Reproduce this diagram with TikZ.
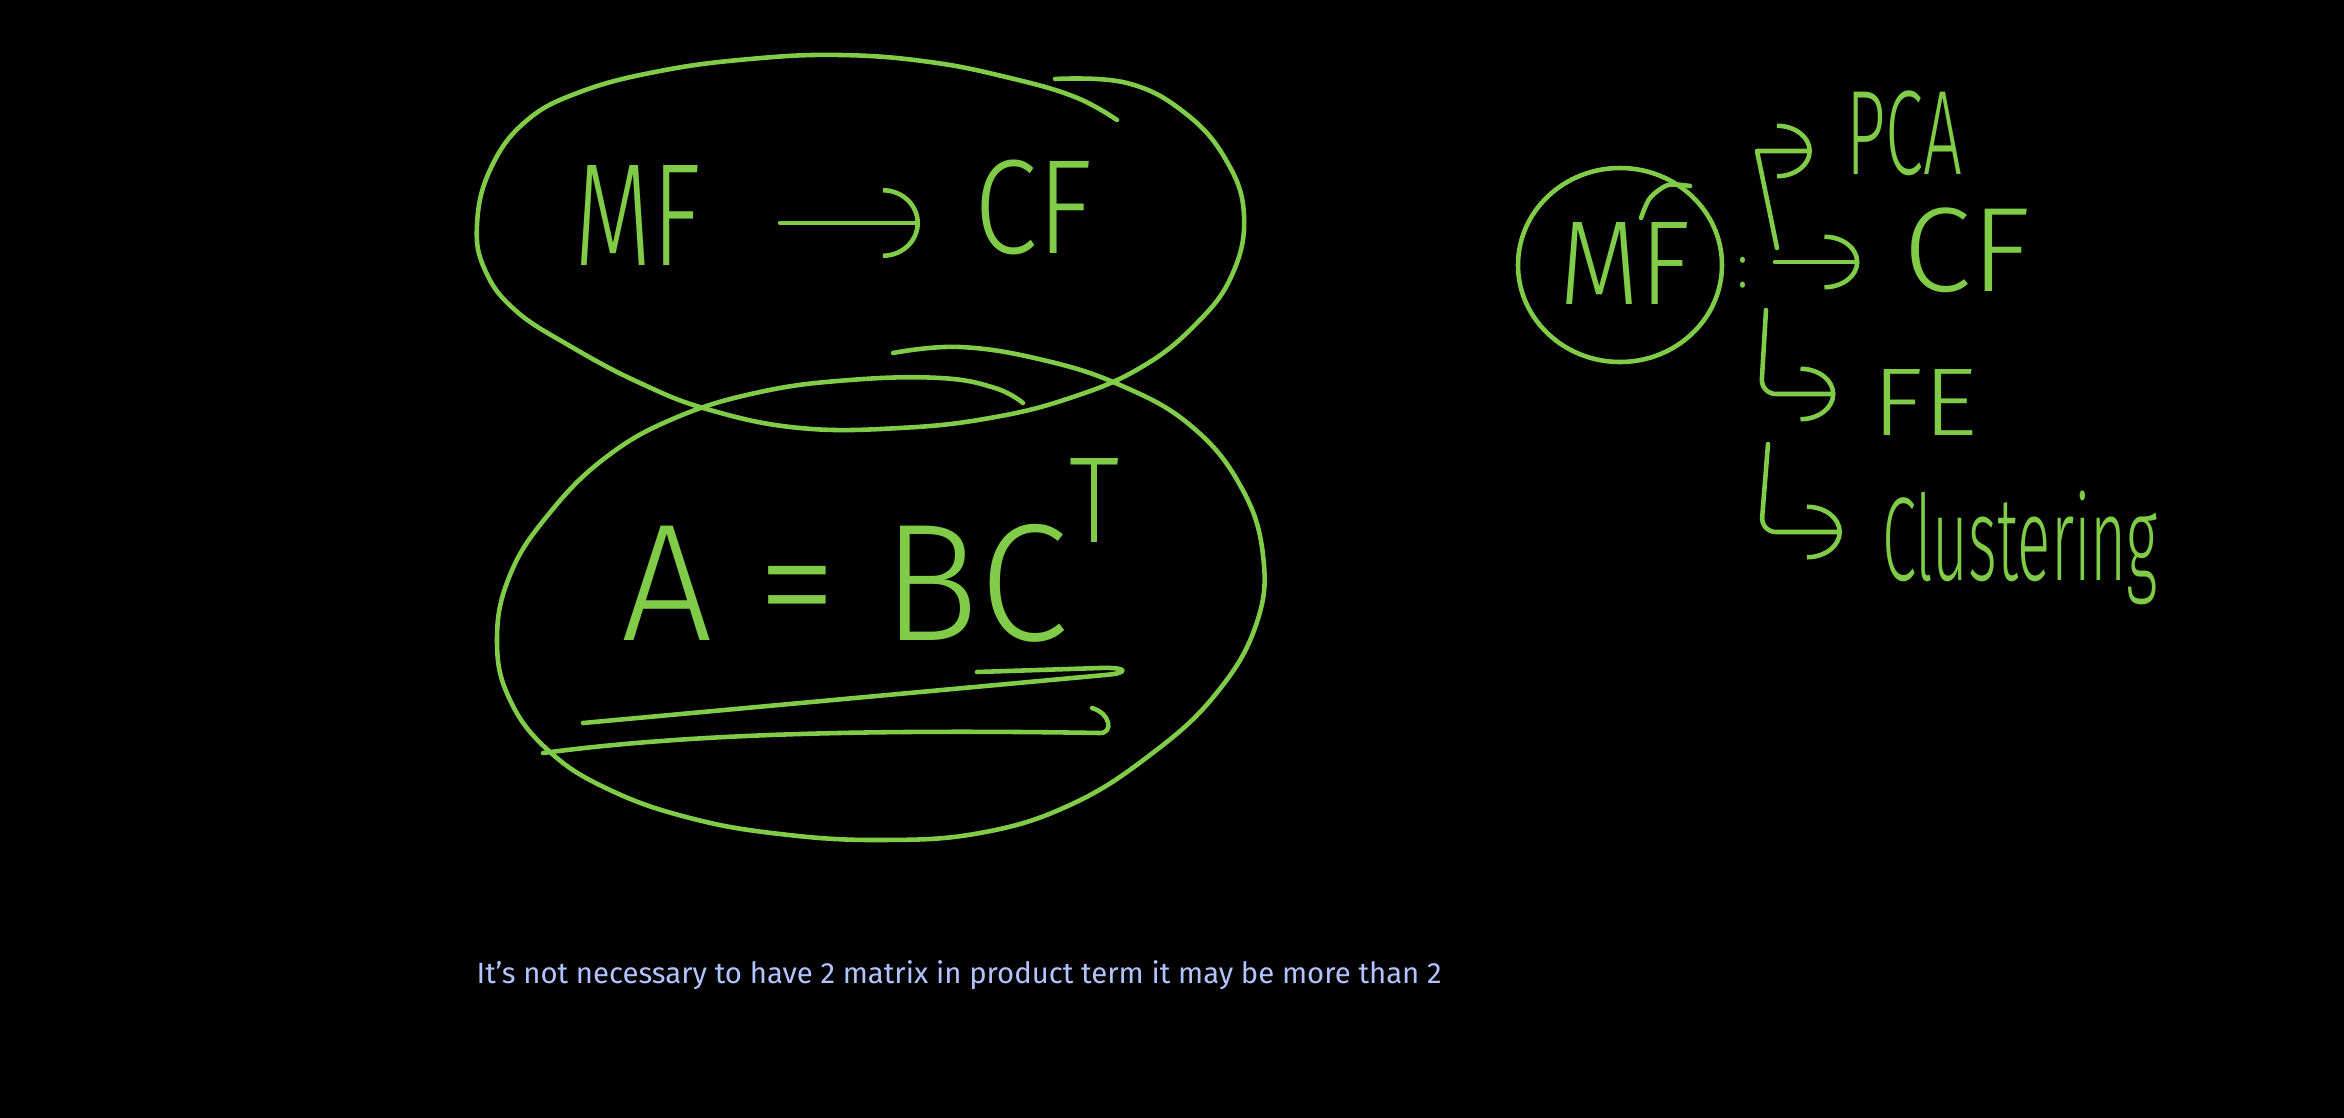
\documentclass[tikz,border=0pt]{standalone}
\usepackage{fontspec}
\usepackage{graphicx}
\usetikzlibrary{arrows.meta}
\IfFontExistsTF{Fira Sans Light}{\newfontfamily\hwfont{Fira Sans Light}}{\newfontfamily\hwfont{Fira Sans}}
\newfontfamily\notefont{Fira Sans}
\newlength\pxu \setlength\pxu{0.01cm}
\newcommand\hwtext[3]{\resizebox*{#1\pxu}{#2\pxu}{\hwfont #3}}
\definecolor{penc}{RGB}{128,204,72}
\definecolor{notec}{RGB}{178,196,255}
\begin{document}
\begin{tikzpicture}[x=0.01cm,y=-0.01cm,
  ink/.style={draw=penc, line width=1.3pt, line cap=round, line join=round},
  hw/.style={inner sep=0pt, outer sep=0pt, text=penc},
  arr/.style={ink, -{Arc Barb[length=3.5mm,width=5.5mm]}},
  bigarr/.style={ink, -{Arc Barb[length=3.7mm,width=7mm]}}
]
\path[use as bounding box, fill=black] (0,0) rectangle (2344,1118);

% ---- top loop: MF -> CF
\draw[ink] plot[smooth, tension=0.7] coordinates {(1055,79) (1127,83) (1185,113) (1226,160) (1244,215) (1232,275) (1195,325) (1140,368) (1070,398) (990,418) (900,428) (800,428) (710,410) (640,383) (570,346) (515,310) (485,270) (477,225) (490,170) (525,122) (580,92) (660,71) (750,59) (840,55) (930,62) (1010,78) (1075,97) (1117,120)};
\node[hw] (MFa) at (638,215) {\hwtext{126}{100}{MF}};
\node[hw] (CFa) at (1034,207) {\hwtext{118}{95}{CF}};
\draw[bigarr, shorten <=0.79cm, shorten >=0.55cm] ([yshift=-0.08cm]MFa.east) -- ([yshift=-0.08cm]MFa.east -| CFa.west);

% ---- bottom loop: A = BC^T
\draw[ink] plot[smooth, tension=0.7] coordinates {(893,353) (960,347) (1043,360) (1120,385) (1190,425) (1240,485) (1263,555) (1256,625) (1215,695) (1150,755) (1070,805) (980,833) (880,840) (780,834) (690,818) (610,790) (550,752) (510,700) (497,640) (510,575) (548,515) (605,458) (675,418) (760,392) (850,380) (940,378) (995,388) (1023,403)};
\node[hw] (ABC) at (845,583) {\hwtext{447}{118}{A = BC}};
\node[hw] (T) at (1094,500) {\hwtext{50}{84}{T}};
\draw[ink] (583,723) -- (1105,675) .. controls (1130,673) and (1128,667) .. (1100,668) -- (977,672);
\draw[ink] (543,753) .. controls (650,739) and (800,728) .. (1100,733) .. controls (1114,733) and (1110,713) .. (1092,708);

% ---- right: MF uses
\draw[ink] (1620,265) ellipse [x radius=102, y radius=97];
\draw[ink] plot[smooth] coordinates {(1641,218) (1650,198) (1668,185) (1690,186)};
\node[hw] (MFb) at (1625,263) {\hwtext{130}{82}{MF}};
\node[hw] (colon) at (1743,273) {\hwtext{11}{31}{:}};
\node[hw] (PCA) at (1904,133) {\hwtext{116}{85}{PCA}};
\node[hw] (CFb) at (1967,250) {\hwtext{127}{85}{CF}};
\node[hw] (FE) at (1925,402) {\hwtext{105}{66}{FE}};
\node[hw] (Cl) at (2020,548) {\hwtext{276}{114}{Clustering}};

\coordinate (t0) at (1777,248);
\coordinate (t1) at (1757,151);
\coordinate (t2) at (1775,262);
\coordinate (t3) at (1766,310);
\coordinate (t4) at (1761,394);
\coordinate (t5) at (1768,444);
\coordinate (t6) at (1761,532);
\draw[arr, shorten >=0.34cm] (t0) -- (t1) -- (t1 -| PCA.west);
\draw[arr, shorten >=0.44cm] (t2) -- (t2 -| CFb.west);
\draw[arr, rounded corners=0.15cm, shorten >=0.37cm] (t3) -- (t4) -- (t4 -| FE.west);
\draw[arr, rounded corners=0.15cm, shorten >=0.40cm] (t5) -- (t6) -- (t6 -| Cl.west);

% ---- note
\node[anchor=base west, inner sep=0pt, text=notec] (note) at (476,983) {\resizebox{965\pxu}{!}{\notefont It’s not necessary to have 2 matrix in product term it may be more than 2}};
\end{tikzpicture}
\end{document}
